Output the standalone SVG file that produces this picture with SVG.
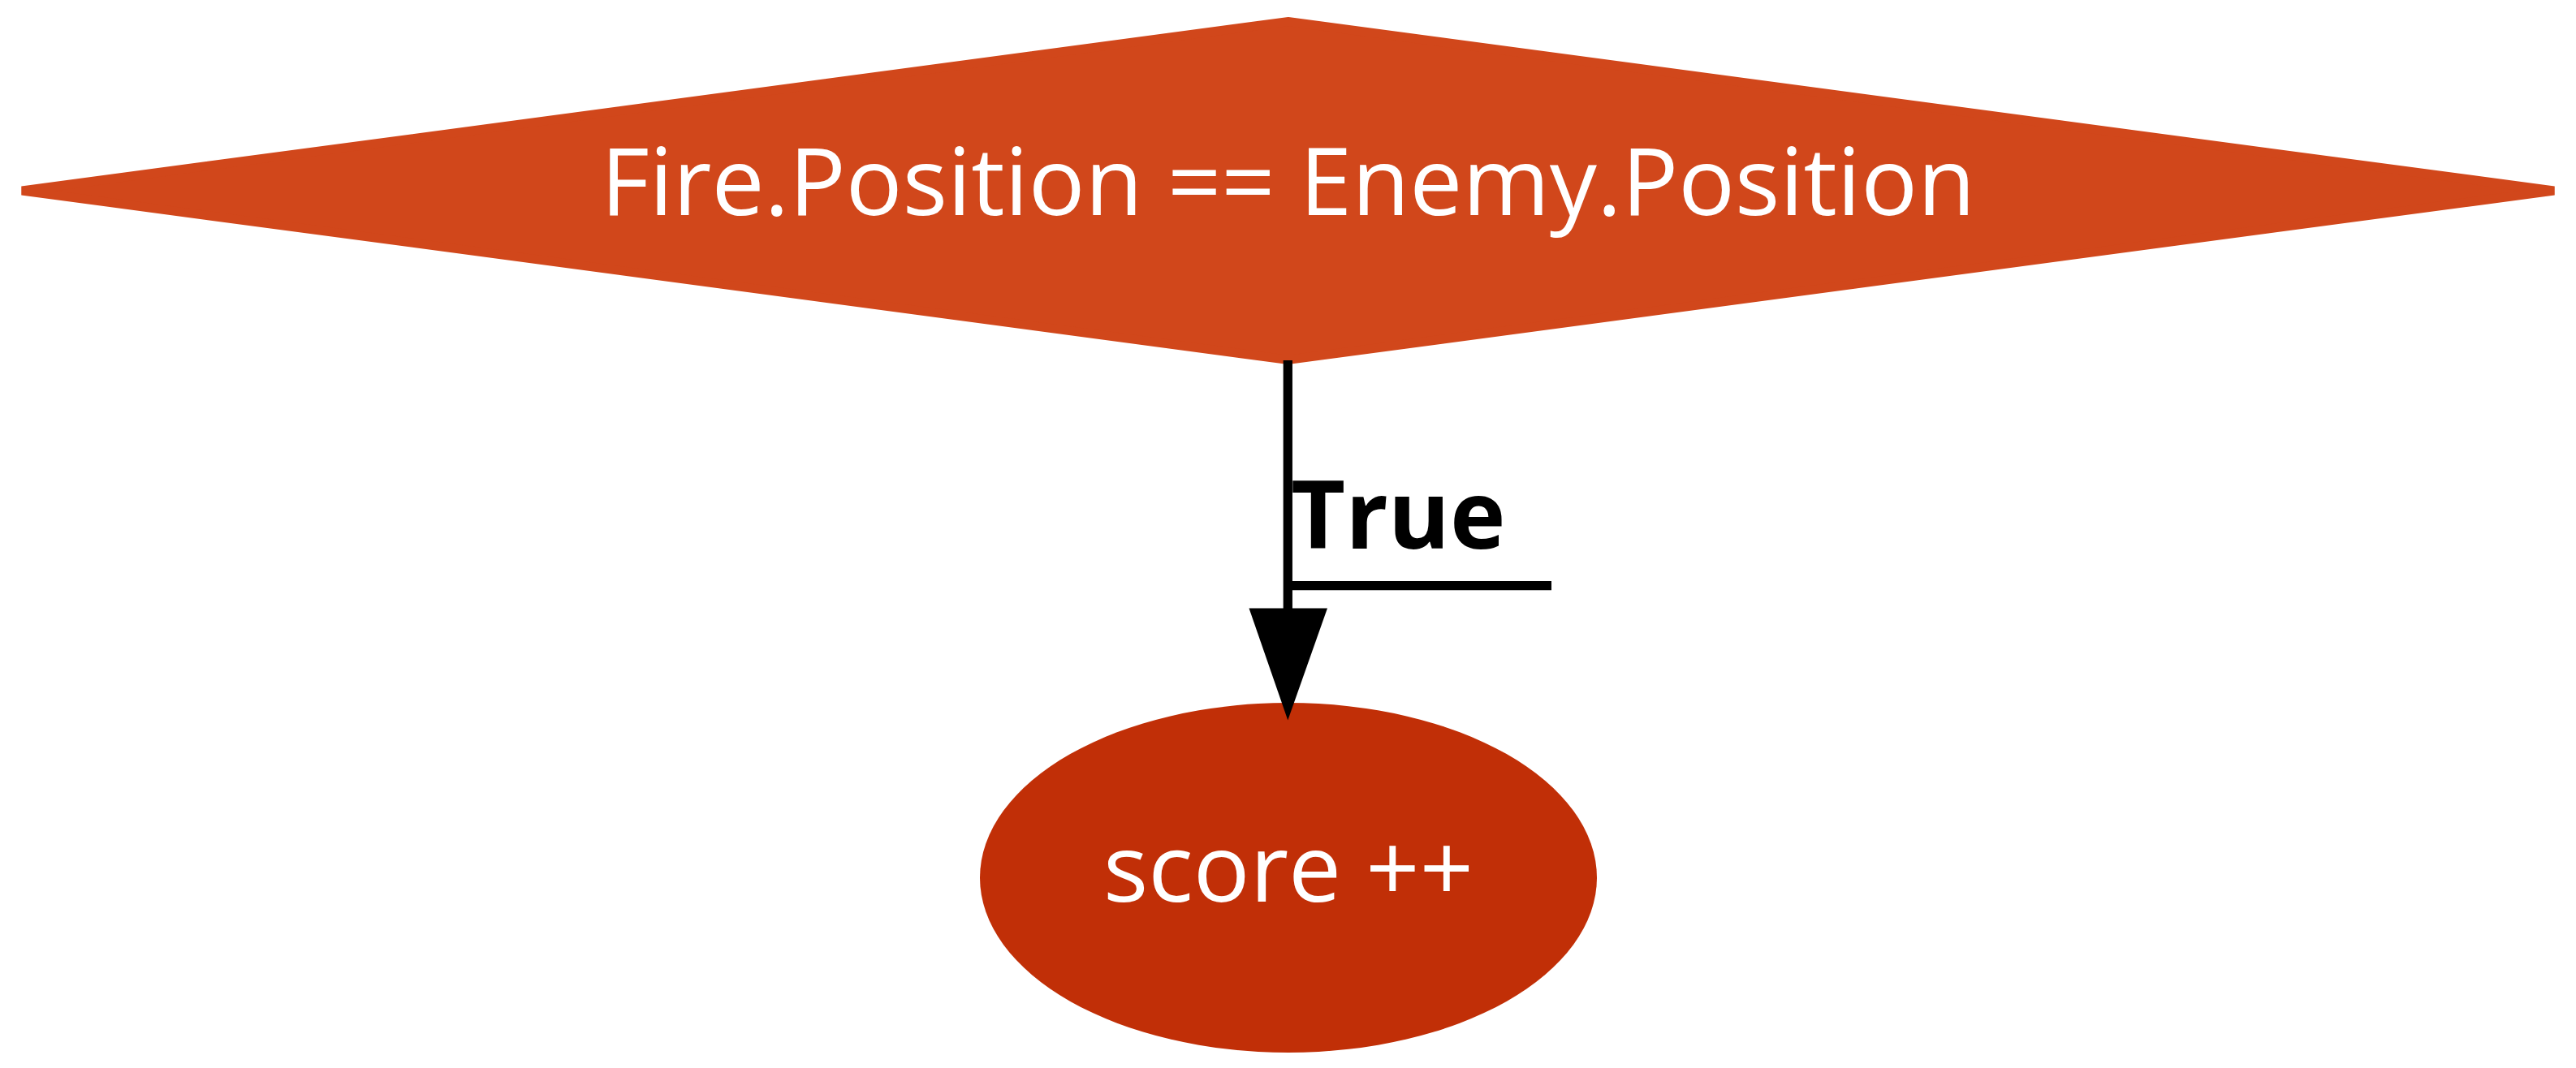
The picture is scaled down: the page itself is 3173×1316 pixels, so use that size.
<svg xmlns="http://www.w3.org/2000/svg" width="3173" height="1316" viewBox="0 0 3173 1316">
<style>
.lbl{font-family:"Open Sans","Liberation Sans",sans-serif;font-size:116px;fill:#ffffff;text-anchor:middle}
.elbl{font-family:"Open Sans","Liberation Sans",sans-serif;font-size:116px;font-weight:bold;fill:#000000}
.edge{stroke:#000000;stroke-width:11.3;fill:none}
</style>
<rect width="3173" height="1316" fill="#ffffff"/>
<g id="node-decision">
<polygon points="1586.5,26.5 3146,235 1586.5,443.5 27,235" fill="#d1471b" stroke="#d1471b" stroke-width="11"/>
<text class="lbl" x="1586.5" y="265">Fire.Position == Enemy.Position</text>
</g>
<g id="node-score">
<ellipse cx="1587" cy="1081.5" rx="380" ry="215.5" fill="#c12f07"/>
<text class="lbl" x="1587" y="1111">score ++</text>
</g>
<g id="connectors">
<line class="edge" x1="1586.3" y1="444" x2="1586.3" y2="752"/>
<polygon points="1538.5,749.5 1635,749.5 1586.3,887.5" fill="#000000"/>
<line class="edge" x1="1586.3" y1="721.7" x2="1911" y2="721.7"/>
<text class="elbl" x="1590" y="676">True</text>
</g>
</svg>
